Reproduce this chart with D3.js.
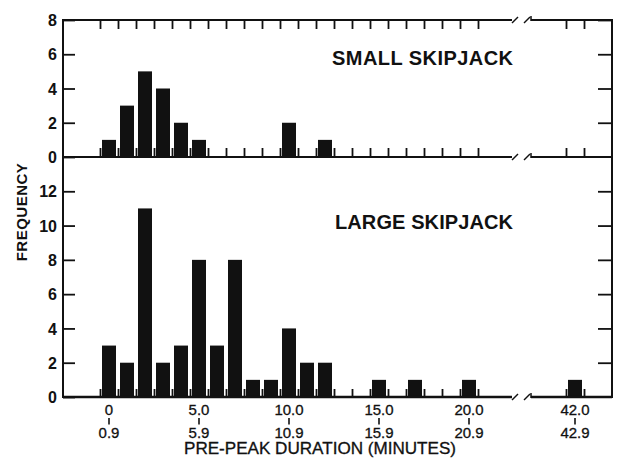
<!DOCTYPE html>
<html><head><meta charset="utf-8">
<script src="https://cdn.jsdelivr.net/npm/d3@7"></script>
<style>body{margin:0;background:#fff}svg{display:block}text{font-family:"Liberation Sans",Arial,sans-serif;fill:#111}</style>
</head><body><svg id="c" width="622" height="459"></svg>
<script>
// ---- data ----
const minuteBins = [0,1,2,3,4,5,6,7,8,9,10,11,12,13,14,15,16,17,18,19,20,42];
const smallSkipjack = [1,3,5,4,2,1,0,0,0,0,2,0,1,0,0,0,0,0,0,0,0,0];
const largeSkipjack = [3,2,11,2,3,8,3,8,1,1,4,2,2,0,0,1,0,1,0,0,1,1];
const labelBins = [0,5,10,15,20,42];
const labelStart = ["0","5.0","10.0","15.0","20.0","42.0"];
const labelEnd = ["0.9","5.9","10.9","15.9","20.9","42.9"];
const smallTicks = [0,2,4,6,8];
const largeTicks = [0,2,4,6,8,10,12];

const svg = d3.select("#c");
const L = 63, R = 612, T = 20, M = 157, B = 397;
const breakA = 512, breakB = 531;
const ink = "#111";

const x = d3.scaleLinear().domain([0,21,42,43]).range([100,478,566,584]);
const ySmall = d3.scaleLinear().domain([0,8]).range([M,T]);
const yLarge = d3.scaleLinear().domain([0,14]).range([B,M]);
const edges = d3.range(0,22).concat([42,43]);
const barW = 14;

function bars(data, y){
  svg.append("g").selectAll("rect").data(minuteBins.map((b,i)=>({b,v:data[i]})).filter(d=>d.v>0))
    .join("rect")
    .attr("x", d=>(x(d.b)+x(d.b+1))/2 - barW/2)
    .attr("width", barW)
    .attr("y", d=>y(d.v))
    .attr("height", d=>y(0)-y(d.v))
    .attr("fill", ink);
}
function edgeTicks(yPos, dir, len){
  const ax = (dir==="up" ? d3.axisTop(x) : d3.axisBottom(x)).tickValues(edges).tickSize(len).tickFormat("");
  const g = svg.append("g").attr("transform",`translate(0,${yPos})`).call(ax);
  g.select(".domain").remove();
  g.selectAll("line").attr("stroke", ink).attr("stroke-width",1.8);
}
function yAxes(y, ticks){
  const gl = svg.append("g").attr("transform",`translate(${L},0)`)
    .call(d3.axisLeft(y).tickValues(ticks).tickSize(-12).tickSizeOuter(0).tickPadding(6));
  gl.select(".domain").remove();
  gl.selectAll("line").attr("stroke", ink).attr("stroke-width",1.8);
  gl.selectAll("text").attr("font-size",16).attr("font-weight","bold").attr("fill",ink).attr("dy","0.35em");
  const gr = svg.append("g").attr("transform",`translate(${R},0)`)
    .call(d3.axisRight(y).tickValues(ticks.filter(t=>t>0)).tickSize(-14).tickSizeOuter(0).tickFormat(""));
  gr.select(".domain").remove();
  gr.selectAll("line").attr("stroke", ink).attr("stroke-width",1.8);
}
function hline(yPos, w){
  svg.append("line").attr("x1",L).attr("x2",breakA).attr("y1",yPos).attr("y2",yPos).attr("stroke",ink).attr("stroke-width",w);
  svg.append("line").attr("x1",breakB).attr("x2",R).attr("y1",yPos).attr("y2",yPos).attr("stroke",ink).attr("stroke-width",w);
  svg.append("line").attr("x1",breakA).attr("x2",breakA+6).attr("y1",yPos+3).attr("y2",yPos-3).attr("stroke",ink).attr("stroke-width",1.5);
  svg.append("line").attr("x1",breakB-7).attr("x2",breakB-1).attr("y1",yPos+3).attr("y2",yPos-3).attr("stroke",ink).attr("stroke-width",1.5);
  svg.append("line").attr("x1",breakB).attr("x2",breakB).attr("y1",yPos-4).attr("y2",yPos+1).attr("stroke",ink).attr("stroke-width",1.5);
}

// ticks first (behind bars)
edgeTicks(T, "down", 9);
edgeTicks(M, "up", 9);
edgeTicks(B, "up", 8);
bars(smallSkipjack, ySmall);
bars(largeSkipjack, yLarge);

// frame
hline(T, 2); hline(M, 2); hline(B, 2.4);
svg.append("line").attr("x1",L).attr("x2",L).attr("y1",T-1).attr("y2",B+1).attr("stroke",ink).attr("stroke-width",2);
svg.append("line").attr("x1",R).attr("x2",R).attr("y1",T-1).attr("y2",B+1).attr("stroke",ink).attr("stroke-width",2);

yAxes(ySmall, smallTicks);
yAxes(yLarge, largeTicks);

// x tick labels (two-line range)
const lg = svg.append("g").selectAll("g").data(labelBins.map((b,i)=>({b,s:labelStart[i],e:labelEnd[i]})))
  .join("g").attr("transform", d=>`translate(${(x(d.b)+x(d.b+1))/2},0)`);
lg.append("text").attr("y",415).attr("text-anchor","middle").attr("font-size",15)
  .attr("stroke",ink).attr("stroke-width",0.3).text(d=>d.s);
lg.append("line").attr("y1",418).attr("y2",424.5).attr("stroke",ink).attr("stroke-width",1.6);
lg.append("text").attr("y",438).attr("text-anchor","middle").attr("font-size",15)
  .attr("stroke",ink).attr("stroke-width",0.3).text(d=>d.e);

svg.append("text").attr("x",320).attr("y",454).attr("text-anchor","middle").attr("font-size",16)
  .attr("stroke",ink).attr("stroke-width",0.3)
  .attr("textLength",272).attr("lengthAdjust","spacingAndGlyphs")
  .text("PRE-PEAK DURATION (MINUTES)");
svg.append("text").attr("transform","translate(27,212) rotate(-90)").attr("text-anchor","middle")
  .attr("font-size",15).attr("font-weight","bold").attr("letter-spacing",0.5).text("FREQUENCY");

svg.append("text").attr("x",332).attr("y",65).attr("font-size",20).attr("font-weight","bold")
  .attr("textLength",181).attr("lengthAdjust","spacing").text("SMALL SKIPJACK");
svg.append("text").attr("x",335).attr("y",229).attr("font-size",20).attr("font-weight","bold")
  .attr("textLength",178).attr("lengthAdjust","spacing").text("LARGE SKIPJACK");
</script></body></html>
